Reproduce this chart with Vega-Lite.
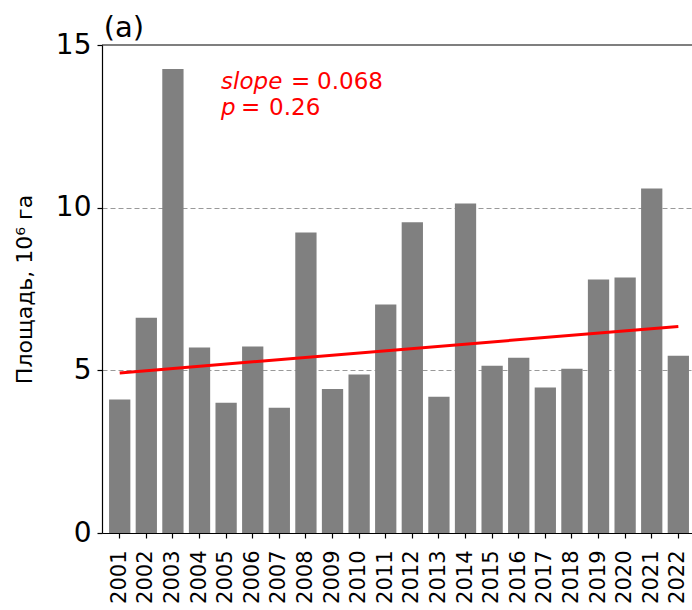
{
  "$schema": "https://vega.github.io/schema/vega-lite/v6.json",
  "width": 590,
  "height": 488,
  "autosize": {"type": "none"},
  "padding": {"left": 102, "top": 45, "right": 0, "bottom": 77},
  "background": "white",
  "config": {"view": {"stroke": null}, "font": "DejaVu Sans"},
  "datasets": {
    "area": [
      {"year": "2001", "area": 4.10},
      {"year": "2002", "area": 6.62},
      {"year": "2003", "area": 14.26},
      {"year": "2004", "area": 5.70},
      {"year": "2005", "area": 4.00},
      {"year": "2006", "area": 5.73},
      {"year": "2007", "area": 3.85},
      {"year": "2008", "area": 9.24},
      {"year": "2009", "area": 4.43},
      {"year": "2010", "area": 4.87},
      {"year": "2011", "area": 7.02},
      {"year": "2012", "area": 9.55},
      {"year": "2013", "area": 4.19},
      {"year": "2014", "area": 10.13},
      {"year": "2015", "area": 5.14},
      {"year": "2016", "area": 5.39},
      {"year": "2017", "area": 4.47},
      {"year": "2018", "area": 5.05},
      {"year": "2019", "area": 7.79},
      {"year": "2020", "area": 7.85},
      {"year": "2021", "area": 10.59},
      {"year": "2022", "area": 5.45}
    ],
    "trend": [
      {"year": "2001", "trend": 4.92},
      {"year": "2022", "trend": 6.35}
    ]
  },
  "layer": [
    {
      "data": {"name": "area"},
      "mark": {"type": "bar", "color": "#808080"},
      "encoding": {
        "x": {
          "field": "year", "type": "ordinal",
          "scale": {"paddingInner": 0.2, "paddingOuter": 0.19, "align": 0.7},
          "axis": {"title": null, "labelAngle": 270, "labelFontSize": 21, "labelColor": "black", "labelPadding": 12, "tickSize": 5, "tickWidth": 1.2, "tickColor": "black", "domainColor": "black", "domainWidth": 1.2, "grid": false}
        },
        "y": {
          "field": "area", "type": "quantitative",
          "scale": {"domain": [0, 15], "nice": false},
          "axis": {"values": [0, 5, 10, 15], "title": "Площадь, 10⁶ га", "titleFontSize": 22, "titleFontWeight": "normal", "titleColor": "black", "titlePadding": 19, "labelFontSize": 28, "labelColor": "black", "labelPadding": 6, "tickSize": 5, "tickWidth": 1.2, "tickColor": "black", "domainColor": "black", "domainWidth": 1.2, "grid": true, "gridDash": [5, 3], "gridColor": "#999999", "gridWidth": 1, "gridOpacity": {"condition": {"test": "datum.value == 0 || datum.value == 15", "value": 0}, "value": 1}}
        }
      }
    },
    {
      "data": {"name": "trend"},
      "mark": {"type": "line", "color": "#ff0000", "strokeWidth": 3},
      "encoding": {
        "x": {"field": "year", "type": "ordinal"},
        "y": {"field": "trend", "type": "quantitative"}
      }
    },
    {
      "data": {"values": [{}]},
      "mark": {"type": "rule", "color": "black", "strokeWidth": 1.2},
      "encoding": {"y": {"datum": 15}}
    },
    {
      "data": {"values": [{}]},
      "mark": {"type": "text", "text": "(a)", "fontSize": 29, "color": "black", "align": "left", "baseline": "alphabetic", "dx": -16, "dy": -8},
      "encoding": {"x": {"datum": "2001"}, "y": {"datum": 15}}
    },
    {
      "data": {"values": [{}]},
      "mark": {"type": "text", "text": "slope", "fontStyle": "italic", "fontSize": 23, "color": "#ff0000", "align": "left", "baseline": "alphabetic", "dx": -5},
      "encoding": {"x": {"datum": "2005"}, "y": {"datum": 13.66}}
    },
    {
      "data": {"values": [{}]},
      "mark": {"type": "text", "text": "=", "fontSize": 23, "color": "#ff0000", "align": "left", "baseline": "alphabetic", "dx": 65},
      "encoding": {"x": {"datum": "2005"}, "y": {"datum": 13.66}}
    },
    {
      "data": {"values": [{}]},
      "mark": {"type": "text", "text": "0.068", "fontSize": 23, "color": "#ff0000", "align": "left", "baseline": "alphabetic", "dx": 91},
      "encoding": {"x": {"datum": "2005"}, "y": {"datum": 13.66}}
    },
    {
      "data": {"values": [{}]},
      "mark": {"type": "text", "text": "p", "fontStyle": "italic", "fontSize": 23, "color": "#ff0000", "align": "left", "baseline": "alphabetic", "dx": -5},
      "encoding": {"x": {"datum": "2005"}, "y": {"datum": 12.84}}
    },
    {
      "data": {"values": [{}]},
      "mark": {"type": "text", "text": "=", "fontSize": 23, "color": "#ff0000", "align": "left", "baseline": "alphabetic", "dx": 15},
      "encoding": {"x": {"datum": "2005"}, "y": {"datum": 12.84}}
    },
    {
      "data": {"values": [{}]},
      "mark": {"type": "text", "text": "0.26", "fontSize": 23, "color": "#ff0000", "align": "left", "baseline": "alphabetic", "dx": 43},
      "encoding": {"x": {"datum": "2005"}, "y": {"datum": 12.84}}
    }
  ]
}
